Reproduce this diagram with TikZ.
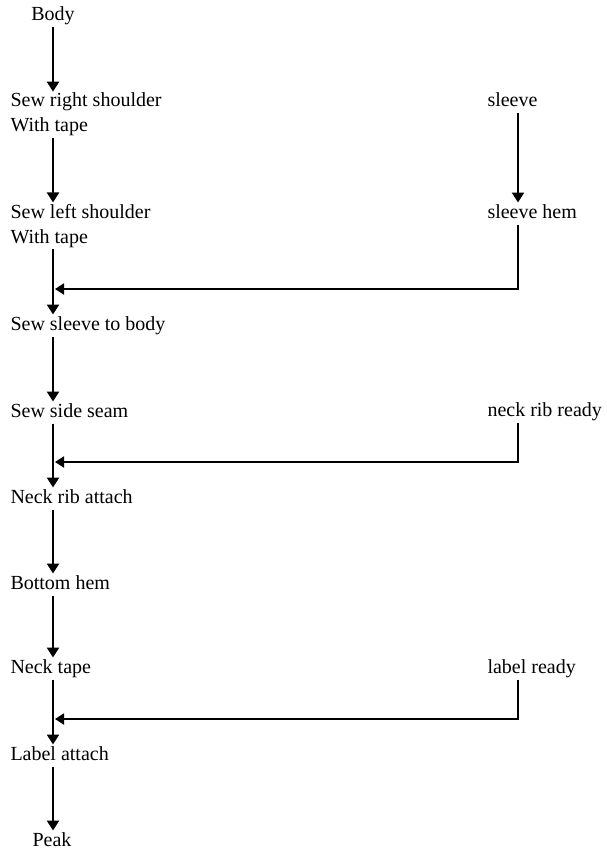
\documentclass[tikz,border=0pt]{standalone}
\usepackage{fontspec}
\setmainfont{Liberation Serif}
\usetikzlibrary{arrows.meta}
\begin{document}
\begin{tikzpicture}[x=1pt,y=-1pt,
  lbl/.style={font=\fontsize{20}{25}\selectfont, inner sep=0pt, outer sep=1.5pt, anchor=base west},
  one/.style={lbl, text height=14pt, text depth=5pt},
  two/.style={lbl, align=left},
  arr/.style={line width=2.4pt, -{Triangle[width=12pt,length=10pt]}},
  feed/.style={line width=1.8pt, -{Triangle[width=11pt,length=9pt]}}]
\useasboundingbox (0,0) rectangle (606,853);
\node[one, anchor=base] (body) at (53,21) {Body};
\node[two] (rs) at (9,132) {Sew right shoulder\\With tape};
\node[two] (ls) at (9,243) {Sew left shoulder\\With tape};
\node[one] (sb) at (9,330) {Sew sleeve to body};
\node[one] (ss) at (9,417) {Sew side seam};
\node[one] (nra) at (9,503) {Neck rib attach};
\node[one] (bh) at (9,589) {Bottom hem};
\node[one] (nt) at (9,673) {Neck tape};
\node[one] (la) at (9,760) {Label attach};
\node[one, anchor=base] (peak) at (52,846) {Peak};
\node[one] (sl) at (486,107) {sleeve};
\node[one] (slh) at (486,218) {sleeve hem};
\node[one] (nrr) at (486,416) {neck rib ready};
\node[one] (lr) at (486,673) {label ready};
\coordinate (mx) at (53,0);
\coordinate (rx) at (518,0);
\coordinate (j1) at (55,289);
\coordinate (j2) at (55,462);
\coordinate (j3) at (55,719);
\draw[arr] (body.south) -- (body.south |- rs.north);
\foreach \a/\b in {rs/ls, ls/sb, sb/ss, ss/nra, nra/bh, bh/nt, nt/la, la/peak}
  \draw[arr] (\a.south -| mx) -- (\b.north -| mx);
\draw[arr] (sl.south -| rx) -- (slh.north -| rx);
\draw[feed] (slh.south -| rx) |- (j1);
\draw[feed] (nrr.south -| rx) |- (j2);
\draw[feed] (lr.south -| rx) |- (j3);
\end{tikzpicture}
\end{document}
